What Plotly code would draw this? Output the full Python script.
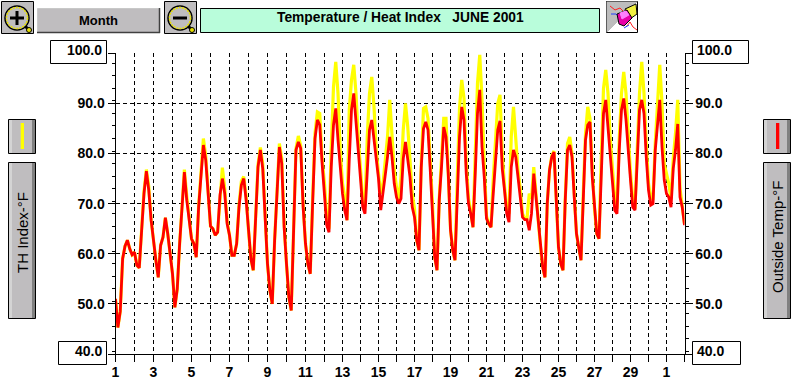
import plotly.graph_objects as go

# Three-hourly readings, one row per day, June 1 2001 to July 1 2001
outside_temp = [
    51, 45.3, 48.5, 59, 61.5, 62.7, 61, 59.8,
    60.3, 57.7, 57.2, 64, 72, 76.5, 72.7, 66.7,
    62, 58.7, 55.3, 61.7, 63.3, 67.2, 64, 59.7,
    56, 49.3, 53, 62, 69, 76.3, 70.7, 66.7,
    63, 62, 59.3, 69.3, 74.7, 81.7, 78.7, 71.3,
    65.5, 65, 63.7, 64.3, 71.7, 75, 72, 66,
    63.7, 59.7, 59.7, 62, 69.3, 73.7, 75, 70.7,
    64.7, 59, 56.7, 66.7, 77.3, 80.7, 77, 67.3,
    58, 52.7, 50, 62.7, 73.3, 81.3, 78, 65.3,
    58, 51.3, 48.7, 65.3, 80.7, 82.3, 81, 69.3,
    62, 58, 56, 70, 83, 86.7, 85.7, 78,
    72, 65.7, 64.3, 77.3, 85.7, 89, 82.7, 77.3,
    72, 68.7, 66.7, 78.7, 88.7, 92, 86, 80,
    74.7, 69.3, 68, 77.3, 84.7, 86.7, 82.7, 78,
    75, 68.7, 72.7, 75.7, 79.3, 83.3, 79.3, 74,
    71.3, 70, 71, 79, 82.3, 79, 75.3, 69.3,
    67.3, 62.7, 60.7, 77.3, 85, 86.3, 84.7, 76.7,
    68.7, 59.3, 56.7, 70.7, 77.3, 85.3, 83.3, 76,
    64.7, 60.7, 58.7, 73.3, 83.3, 89.3, 86.7, 76,
    70, 68, 65.3, 76, 88, 92.7, 81.3, 75.3,
    67, 66, 65.3, 72, 78.7, 84.7, 86.5, 77,
    72.7, 68, 66.3, 77.3, 80.7, 79.3, 75.3, 71.3,
    67.3, 66.8, 66.8, 64.7, 68, 76, 71.3, 66,
    61.3, 57.3, 55.3, 70, 76.7, 79.3, 80.3, 70.7,
    61.3, 58, 56.7, 70.7, 80.7, 81.7, 79.3, 71.3,
    64, 61.3, 58.7, 70.7, 82.7, 85.7, 86.3, 75.3,
    68.7, 64, 63, 77.3, 88, 90.7, 85.3, 80.7,
    74, 68.7, 68, 80.7, 88.7, 91, 86.7, 80,
    74.7, 69.3, 68.7, 78.7, 88.7, 90.7, 88, 79.3,
    72.7, 69.7, 70, 80.7, 86, 90.7, 81.3, 74.7,
    72, 71.3, 69.3, 77, 80.7, 85.9, 71.3, 69.3, 65.7,
]
th_index = [
    51, 45.3, 48.5, 59, 61.5, 62.7, 61, 59.8,
    60.3, 57.7, 57.2, 64, 72.5, 76.8, 73.5, 66.7,
    62, 58.7, 55.3, 61.7, 63.3, 67.2, 64, 59.7,
    56, 49.3, 53, 62, 69.5, 76.8, 71.5, 67,
    63, 62, 59.3, 69.5, 75.5, 83, 79.5, 72,
    65.5, 65, 63.7, 64.3, 70.5, 77.2, 73, 66.5,
    63.7, 59.7, 59.7, 62, 69.7, 74.5, 75.4, 71.5,
    64.7, 59, 56.7, 66.7, 77.8, 81.2, 78, 67.8,
    58, 52.7, 50, 62.7, 74, 82, 79, 66,
    58, 51.3, 48.7, 65.3, 81, 83.5, 81.5, 70,
    62, 58, 56, 71, 84, 88.3, 88, 79,
    74, 67, 65, 81.3, 93.3, 98.3, 92, 80.7,
    74, 71.3, 66.7, 88.7, 94.7, 97.7, 92, 83.3,
    76, 70.7, 69.3, 83.3, 92, 95.3, 89.3, 80.7,
    76, 72, 74, 78, 83.3, 90.7, 84.7, 76.7,
    73.3, 70.5, 75.3, 84.7, 90, 85.3, 78.7, 72,
    69, 62.7, 60.7, 78, 89, 89.3, 87, 79,
    70, 59.3, 56.7, 71, 79, 87, 87, 77,
    65, 60.7, 58.7, 75, 89, 94.7, 91, 78,
    71, 68.5, 65.3, 80, 94, 99.7, 90.7, 78,
    67.5, 66, 65.3, 75, 84, 90, 91.7, 80,
    73.5, 69, 68, 83.3, 89.3, 82.7, 76.7, 73,
    68, 67, 67, 72, 71, 77.3, 72, 66,
    61.3, 57.3, 55.3, 70, 76.7, 79.5, 80.5, 71,
    61.3, 58, 56.7, 71, 82, 83.3, 80, 72,
    64, 61.3, 58.7, 72, 84, 89.3, 87, 77,
    69, 64, 63, 79, 93, 96.7, 92, 83,
    76, 71, 69, 83, 92, 96.3, 92, 83,
    76, 71, 69, 81, 92, 98.3, 92, 82,
    74, 71, 71, 82, 90, 97.7, 90, 78,
    76, 74, 71, 79, 84, 90.7, 73, 70, 66,
]
day_labels = ["1", "", "3", "", "5", "", "7", "", "9", "", "11", "", "13", "", "15", "",
              "17", "", "19", "", "21", "", "23", "", "25", "", "27", "", "29", "", "1", ""]
y_major = [40, 50, 60, 70, 80, 90, 100]
y_labels = ["", "50.0", "60.0", "70.0", "80.0", "90.0", ""]
title_text = "Temperature / Heat Index   JUNE 2001"

W, H = 800, 386
PL, PR, PT, PB = 115.5, 684.5, 53.3, 354.0
# The source's day grid is 19 px wide up to day 12, then 18 px.
day_widths = [19] * 11 + [18] * 20
day_edges = [0]
for w in day_widths:
    day_edges.append(day_edges[-1] + w)

SAMPLES = 8
xs = []
for d, w in enumerate(day_widths):
    for k in range(SAMPLES):
        xs.append(day_edges[d] + w * k / SAMPLES)
xs.append(xs[-1] + day_widths[-1] / SAMPLES)
xs_t = xs[:len(outside_temp)]


def X(p):
    return p / W


def Y(p):
    return 1 - p / H


shapes = []
annos = []


def rect(x0, y0, x1, y1, fill=None, line="black", lw=1):
    shapes.append(dict(type="rect", xref="paper", yref="paper", x0=X(x0), x1=X(x1), y0=Y(y0), y1=Y(y1),
                       fillcolor=fill or "rgba(0,0,0,0)", line=dict(color=line, width=lw)))


def circle(cx, cy, r, fill=None, line="black", lw=1, dash=None):
    shapes.append(dict(type="circle", xref="paper", yref="paper", x0=X(cx - r), x1=X(cx + r), y0=Y(cy - r), y1=Y(cy + r),
                       fillcolor=fill or "rgba(0,0,0,0)", line=dict(color=line, width=lw, dash=dash or "solid")))


def seg(pts, color="black", lw=1, fill=None):
    d = "M " + " L ".join(f"{X(a):.5f} {Y(b):.5f}" for a, b in pts)
    if fill:
        d += " Z"
    shapes.append(dict(type="path", xref="paper", yref="paper", path=d,
                       fillcolor=fill or "rgba(0,0,0,0)", line=dict(color=color, width=lw)))


def text(x, y, s, size=14, bold=True, anchor="center", angle=0, family="Liberation Sans"):
    annos.append(dict(xref="paper", yref="paper", x=X(x), y=Y(y), text=s, showarrow=False, xanchor=anchor,
                      yanchor="middle", textangle=angle,
                      font=dict(family=family, size=size, color="black", weight=700 if bold else 400)))


GREY = "#bfbdbf"


def side_button(x0, y0, x1, y1):
    rect(x0, y0, x1, y1, fill=GREY, line="black", lw=1)
    rect(x0 + 0.5, y0 + 0.5, x0 + 3.5, y1 - 0.5, fill="#d4d4d4", line="#d4d4d4", lw=0)
    rect(x1 - 3.5, y0 + 0.5, x1 - 0.5, y1 - 0.5, fill="#808080", line="#808080", lw=0)


def magnifier(x0, y0, minus=False):
    rect(x0, y0, x0 + 32, y0 + 32, fill=GREY, line="black", lw=1)
    cx, cy = x0 + 15.5, y0 + 16.5
    circle(cx, cy, 12, fill=GREY, line="black", lw=1.5)
    circle(cx, cy, 10.5, line="#e8e000", lw=1.5, dash="2px,1px")
    seg([(x0 + 24, y0 + 25), (x0 + 29, y0 + 30)], color="black", lw=3)
    circle(x0 + 27.5, y0 + 28.5, 2.5, fill="#e8e000", line="black", lw=1)
    seg([(cx - 7, cy), (cx + 7, cy)], lw=3)
    if not minus:
        seg([(cx, cy - 7), (cx, cy + 7)], lw=3)


magnifier(1.5, 1.5)
magnifier(164.5, 1.5, minus=True)

# Month button
rect(37.5, 8.5, 159.5, 32.5, fill=GREY, line="#c8c8c8", lw=1)
seg([(37, 32.5), (160, 32.5)], color="#404040", lw=1.5)
seg([(159.5, 8), (159.5, 33)], color="#404040", lw=1.5)
text(98, 20.5, "Month", size=13)

# Title bar
rect(200.5, 8.5, 599.5, 32.5, fill="#b9fddb", line="black", lw=1)
text(400, 18, title_text.replace(" ", "&nbsp;"), size=13.8)

# Eraser icon
rect(606.5, 1.5, 637.5, 32.5, fill="white", line="black", lw=1)
seg([(607, 2), (637, 2), (607, 32)], color="#bdbdbd", fill="#bdbdbd")
seg([(610, 6), (615, 10), (620, 8), (624, 12)], color="#ff2020", lw=1)
seg([(611, 14), (616, 14), (619, 17)], color="#2040ff", lw=1)
seg([(626, 27), (630, 22), (633, 27), (637, 30)], color="#ff2020", lw=1)
seg([(624, 28), (629, 25)], color="#2040ff", lw=1)
seg([(625, 9), (636, 4), (637, 14), (630, 19)], color="black", lw=1, fill="#f0f040")
seg([(617, 14), (627, 10), (632, 18), (624, 26), (619, 24)], color="black", lw=1, fill="#e800a8")
seg([(620, 13), (626, 11), (629, 15), (622, 19)], color="#ff80ff", lw=1, fill="#ff80ff")

# Axis end-value boxes
rect(50.5, 40.5, 106.5, 63.5, fill="white")
rect(58.5, 341.5, 106.5, 364.5, fill="white")
rect(692.5, 40.5, 748.5, 63.5, fill="white")
rect(692.5, 341.5, 740.5, 364.5, fill="white")
text(104, 50, "100.0", anchor="right")
text(104, 351, "40.0", anchor="right")
text(695, 50, "100.0", anchor="left")
text(695, 351, "40.0", anchor="left")

# Side buttons
side_button(8.5, 119.5, 35.5, 153.5)
rect(20.7, 123, 24, 149, fill="#ffff00", line="#ffff00", lw=0)
side_button(8.5, 162.5, 35.5, 318.5)
text(22, 233, "TH Index-°F", size=15, bold=False, angle=-90)
side_button(763.5, 119.5, 790.5, 153.5)
rect(776, 123, 779.3, 149, fill="#ff0000", line="#ff0000", lw=0)
side_button(763.5, 162.5, 790.5, 318.5)
text(778, 237, "Outside Temp-°F", size=15, bold=False, angle=-90)

fig = go.Figure()
fig.add_trace(go.Scatter(x=xs_t, y=th_index, mode="lines", name="TH Index", yaxis="y",
                         line=dict(color="#ffff00", width=3.2), hoverinfo="skip"))
fig.add_trace(go.Scatter(x=xs_t, y=outside_temp, mode="lines", name="Outside Temp", yaxis="y2",
                         line=dict(color="#ff0000", width=2.8), hoverinfo="skip"))

tickfont = dict(family="Liberation Sans", size=14, color="black", weight=700)
GRID = dict(gridcolor="black", gridwidth=1, griddash="4px,3px")
yax = dict(range=[40, 100], tickmode="array", tickvals=y_major, ticktext=y_labels, ticks="outside", ticklen=7,
           tickcolor="black", tickwidth=1, showline=True, linecolor="black", linewidth=1, tickfont=tickfont,
           domain=[1 - PB / H, 1 - PT / H], zeroline=False, fixedrange=True,
           minor=dict(tickmode="array", tickvals=[v / 2 for v in range(81, 200, 5)], ticks="outside", ticklen=3,
                      tickcolor="black", showgrid=False))

fig.update_layout(
    width=W, height=H, margin=dict(l=0, r=0, t=0, b=0, autoexpand=False), paper_bgcolor="white", plot_bgcolor="white",
    showlegend=False, shapes=shapes, annotations=annos,
    xaxis=dict(domain=[PL / W, PR / W], range=[0, day_edges[-1]], tickmode="array", tickvals=day_edges,
               ticktext=day_labels, ticks="outside", ticklen=7, tickcolor="black", tickwidth=1, tickangle=0,
               showline=True, linecolor="black", linewidth=1, tickfont=tickfont, showgrid=True,
               ticklabelstandoff=-2, zeroline=False, fixedrange=True, anchor="y", **GRID),
    yaxis=dict(showgrid=True, side="left", **GRID, **yax),
    yaxis2=dict(overlaying="y", side="right", showgrid=False, **yax),
)

fig.write_html("out.html", config=dict(displayModeBar=False),
               post_script=("document.body.style.margin='0';document.documentElement.style.overflow='hidden';"
                            "var g=document.querySelector('.plotly-graph-div');"
                            "g.style.position='absolute';g.style.left='0';g.style.top='0';g.style.margin='0';"))
